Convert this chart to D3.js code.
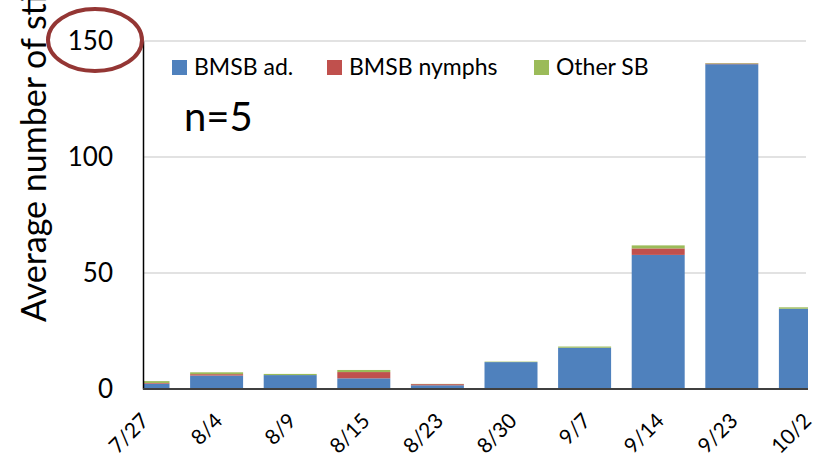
<!DOCTYPE html>
<html>
<head>
<meta charset="utf-8">
<script src="https://cdn.jsdelivr.net/npm/d3@7"></script>
<style>
  body { margin: 0; background: #fff; }
  svg { display: block; font-family: Lato, "Open Sans", sans-serif; }
</style>
</head>
<body>
<script>
// values
var dates = ["7/27", "8/4", "8/9", "8/15", "8/23", "8/30", "9/7", "9/14", "9/23", "10/2"];
var bmsbAdults = [2.3, 5.8, 6.0, 4.6, 1.6, 11.6, 17.8, 57.8, 140.0, 34.6];
var bmsbNymphs = [0.3, 0.6, 0.0, 2.7, 0.5, 0.0, 0.0, 2.8, 0.3, 0.0];
var otherSB = [0.8, 0.8, 0.5, 0.9, 0.1, 0.2, 0.5, 1.3, 0.2, 0.6];
var seriesNames = ["BMSB ad.", "BMSB nymphs", "Other SB"];
var seriesColors = ["#4f81bd", "#c0504d", "#9bbb59"];
var yTicks = [0, 50, 100, 150];

var width = 816, height = 462;
var plotLeft = 143, plotRight = 808, plotTop = 41, plotBottom = 389;

var svg = d3.select("body").append("svg")
    .attr("width", width)
    .attr("height", height);

var rows = dates.map(function(d, i) {
    return {date: d, "BMSB ad.": bmsbAdults[i], "BMSB nymphs": bmsbNymphs[i], "Other SB": otherSB[i]};
});

var stack = d3.stack().keys(seriesNames)(rows);

// the picture is a crop: first and last bars are cut by the plot edges
var step = 73.6;
var x = d3.scaleBand()
    .domain(dates)
    .range([plotLeft - step / 2, plotLeft - step / 2 + dates.length * step])
    .paddingInner(0.28)
    .paddingOuter(0.14);

var y = d3.scaleLinear()
    .domain([0, 150])
    .range([plotBottom, plotTop]);

svg.append("clipPath").attr("id", "plotclip")
    .append("rect")
    .attr("x", plotLeft).attr("y", 0)
    .attr("width", plotRight - plotLeft).attr("height", plotBottom);

// gridlines
svg.append("g")
    .selectAll("line")
    .data(yTicks.filter(function(t) { return t > 0; }))
    .enter().append("line")
    .attr("x1", plotLeft).attr("x2", plotRight - 2)
    .attr("y1", function(d) { return y(d); })
    .attr("y2", function(d) { return y(d); })
    .attr("stroke", "#d9d9d9")
    .attr("stroke-width", 1.5);

// bars
var bars = svg.append("g").attr("clip-path", "url(#plotclip)");
bars.selectAll("g")
    .data(stack)
    .enter().append("g")
    .attr("fill", function(d, i) { return seriesColors[i]; })
    .selectAll("rect")
    .data(function(d) { return d; })
    .enter().append("rect")
    .attr("x", function(d) { return x(d.data.date); })
    .attr("width", x.bandwidth())
    .attr("y", function(d) { return y(d[1]); })
    .attr("height", function(d) { return Math.max(0, y(d[0]) - y(d[1])); });

// y axis
var yAxis = svg.append("g")
    .attr("transform", "translate(" + plotLeft + ",0)")
    .call(d3.axisLeft(y).tickValues(yTicks).tickSize(0).tickPadding(30));
yAxis.select(".domain").attr("stroke", "#000").attr("stroke-width", 1.5);
yAxis.selectAll("text")
    .attr("font-family", "Lato, sans-serif")
    .attr("font-size", 26)
    .attr("fill", "#000");

// x axis
var xAxis = svg.append("g")
    .attr("transform", "translate(0," + plotBottom + ")");
xAxis.append("line")
    .attr("x1", plotLeft).attr("x2", plotRight)
    .attr("stroke", "#404040").attr("stroke-width", 2);
xAxis.selectAll("text")
    .data(dates)
    .enter().append("text")
    .attr("transform", function(d) {
        return "translate(" + (x(d) + x.bandwidth() / 2 + 2) + ",28) rotate(-45)";
    })
    .attr("text-anchor", "end")
    .attr("dy", "0.35em")
    .attr("font-size", 21)
    .attr("fill", "#000")
    .text(function(d) { return d; });

// y title, cut at the top like the picture
svg.append("text")
    .attr("transform", "translate(46,322) rotate(-90)")
    .attr("font-size", 34)
    .attr("fill", "#000")
    .text("Average number of stink bugs");

// legend
var legend = svg.append("g");
var legendX = [172, 327, 534];
seriesNames.forEach(function(name, i) {
    legend.append("rect")
        .attr("x", legendX[i]).attr("y", 60)
        .attr("width", 15).attr("height", 15)
        .attr("fill", seriesColors[i]);
    legend.append("text")
        .attr("x", legendX[i] + 22).attr("y", 75)
        .attr("font-size", 23)
        .attr("fill", "#000")
        .text(name);
});

svg.append("text")
    .attr("x", 184).attr("y", 131)
    .attr("font-size", 40)
    .attr("fill", "#000")
    .text("n=5");

// red ring around the top tick
svg.append("ellipse")
    .attr("cx", 95).attr("cy", 40)
    .attr("rx", 47).attr("ry", 31)
    .attr("fill", "none")
    .attr("stroke", "#943634")
    .attr("stroke-width", 4);
</script>
</body>
</html>
